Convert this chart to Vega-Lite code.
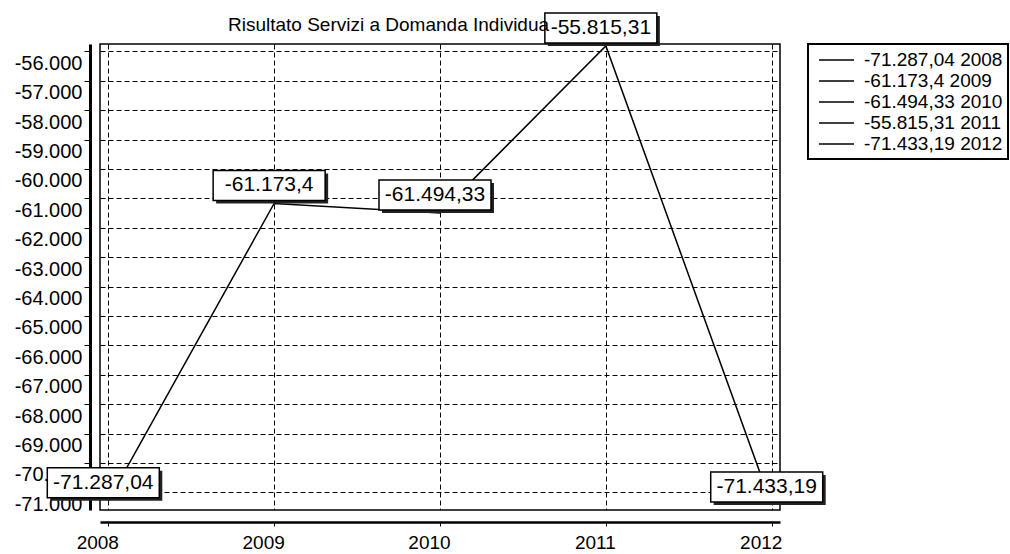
{
  "$schema": "https://vega.github.io/schema/vega-lite/v6.json",
  "width": 680,
  "height": 466,
  "autosize": "none",
  "padding": {"left": 100, "top": 44, "right": 230, "bottom": 44},
  "background": "white",
  "config": {
    "locale": {"number": {"decimal": ",", "thousands": ".", "grouping": [3], "currency": ["€", ""], "minus": "-"}},
    "font": "Liberation Sans",
    "view": {"stroke": "black", "strokeWidth": 1.5}
  },
  "title": {"text": "Risultato Servizi a Domanda Individua", "anchor": "start", "frame": "group", "dx": 128, "dy": 38, "fontSize": 19, "fontWeight": "normal", "baseline": "alphabetic", "offset": 0, "font": "Liberation Sans", "color": "black"},
  "data": {"values": [
    {"year": 2008, "value": -71287.04, "label": "-71.287,04", "legend": "-71.287,04 2008"},
    {"year": 2009, "value": -61173.4, "label": "-61.173,4", "legend": "-61.173,4 2009"},
    {"year": 2010, "value": -61494.33, "label": "-61.494,33", "legend": "-61.494,33 2010"},
    {"year": 2011, "value": -55815.31, "label": "-55.815,31", "legend": "-55.815,31 2011"},
    {"year": 2012, "value": -71433.19, "label": "-71.433,19", "legend": "-71.433,19 2012"}
  ]},
  "encoding": {
    "x": {"field": "year", "type": "quantitative",
      "scale": {"domain": [2007.95, 2012.05], "nice": false, "zero": false},
      "axis": {"values": [2008, 2009, 2010, 2011, 2012], "format": "d", "title": null, "offset": 12,
        "domainColor": "black", "domainWidth": 2.5, "tickColor": "black", "tickSize": 4, "labelPadding": 7, "labelOffset": -11,
        "labelFontSize": 19, "labelColor": "black", "grid": true, "gridColor": "black", "gridDash": [5, 3], "gridWidth": 1}},
    "y": {"field": "value", "type": "quantitative",
      "scale": {"domain": [-71600, -55750], "nice": false, "zero": false},
      "axis": {"values": [-71000, -70000, -69000, -68000, -67000, -66000, -65000, -64000, -63000, -62000, -61000, -60000, -59000, -58000, -57000, -56000],
        "format": ",.0f", "title": null, "offset": 10, "domainColor": "black", "domainWidth": 3, "tickColor": "black", "tickSize": 6,
        "labelPadding": 2, "labelOffset": 12, "labelFontSize": 20, "labelColor": "black",
        "grid": true, "gridColor": "black", "gridDash": [5, 3], "gridWidth": 1}}
  },
  "layer": [
    {"mark": {"type": "line", "color": "black", "strokeWidth": 1.5}},
    {"mark": {"type": "line", "strokeWidth": 1.5},
      "encoding": {"color": {"field": "legend", "type": "nominal", "sort": null,
        "scale": {"range": ["black", "black", "black", "black", "black"]},
        "legend": {"title": null, "orient": "right", "offset": 28, "symbolType": "M-1.75,0H1.75", "symbolSize": 400, "symbolStrokeWidth": 1.5,
          "symbolOffset": 12.5, "symbolFillColor": "transparent",
          "labelFontSize": 19, "labelOffset": 16.5, "padding": 5, "rowPadding": 0, "strokeColor": "black", "fillColor": "white",
          "labelColor": "black", "labelLimit": 220,
          "encode": {"legend": {"update": {"strokeWidth": {"value": 2}}}}}}}},
    {"mark": {"type": "rect", "width": 112, "height": 30, "xOffset": -2, "yOffset": -15, "color": "#222"}},
    {"mark": {"type": "rect", "width": 112, "height": 30, "xOffset": -5, "yOffset": -18, "fill": "white", "stroke": "black", "strokeWidth": 1.5}},
    {"mark": {"type": "text", "fontSize": 21, "xOffset": -5, "yOffset": -18, "align": "center", "baseline": "middle", "color": "black"},
      "encoding": {"text": {"field": "label"}}}
  ]
}
